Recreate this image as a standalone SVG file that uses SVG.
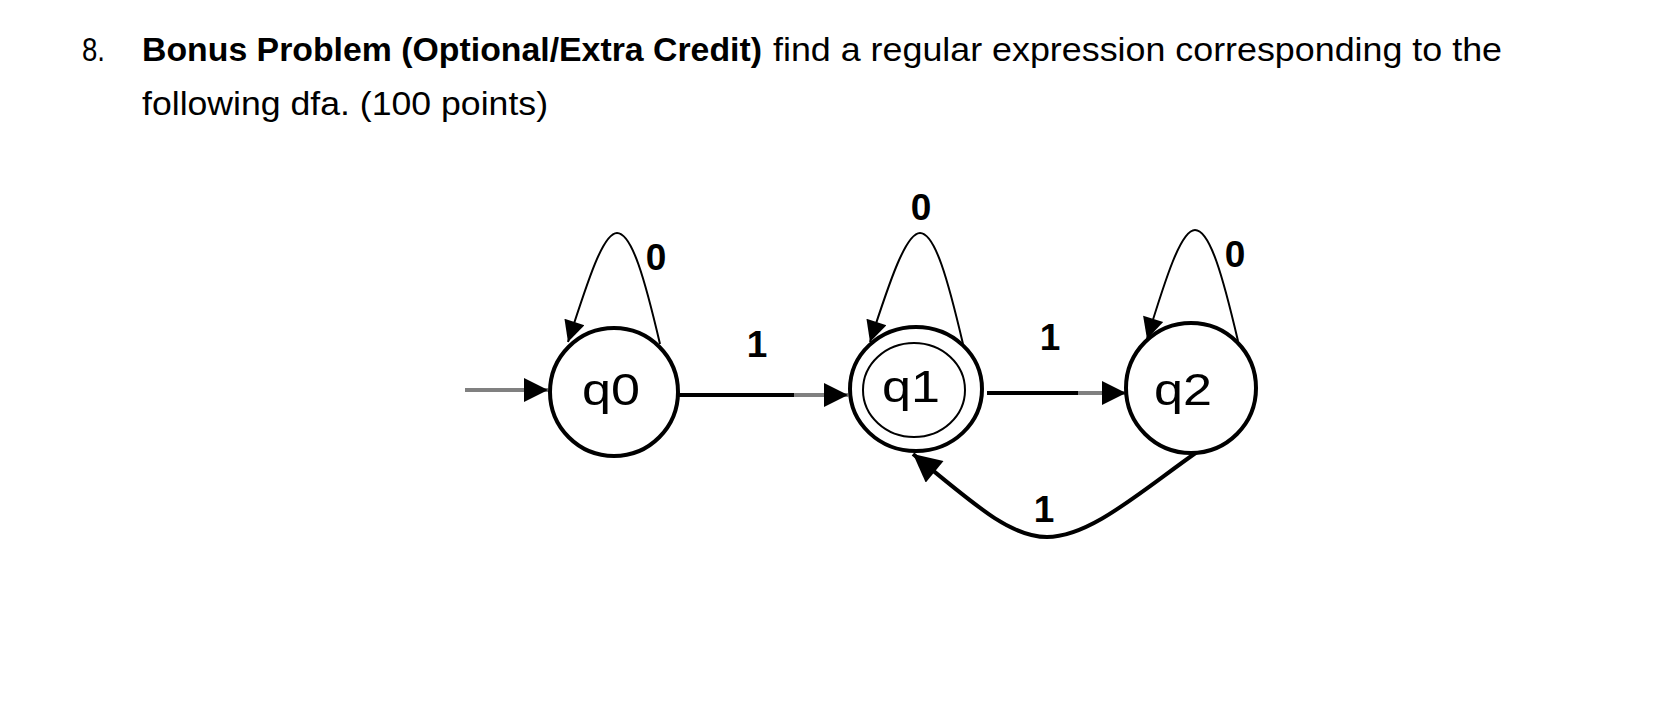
<svg xmlns="http://www.w3.org/2000/svg" width="1654" height="716" viewBox="0 0 1654 716">
<style>
.t{font-family:"Liberation Sans",Arial,sans-serif;font-size:34px;fill:#000}
.b{font-weight:bold}
.st{fill:#fff;stroke:#000;stroke-width:4}
.in{fill:none;stroke:#000;stroke-width:2}
.lab{font-family:"Liberation Sans",Arial,sans-serif;font-size:45px;fill:#000;text-anchor:middle}
.el{font-family:"Liberation Sans",Arial,sans-serif;font-size:37px;font-weight:bold;fill:#000;text-anchor:middle}
.loop{fill:none;stroke:#000;stroke-width:2}
.thick{fill:none;stroke:#000;stroke-width:4}
.gray{fill:none;stroke:#808080;stroke-width:4}
</style>
<defs>
<marker id="ah" viewBox="0 0 10 10" refX="10" refY="5" markerWidth="26" markerHeight="21" markerUnits="userSpaceOnUse" orient="auto">
<path d="M0,0 L10,5 L0,10 z" fill="#000"/>
</marker>
<marker id="ahb" viewBox="0 0 10 10" refX="10" refY="5" markerWidth="29" markerHeight="28" markerUnits="userSpaceOnUse" orient="auto">
<path d="M0,0 L10,5 L0,10 z" fill="#000"/>
</marker>
<marker id="ahs" viewBox="0 0 10 10" refX="10" refY="5" markerWidth="28" markerHeight="24" markerUnits="userSpaceOnUse" orient="auto">
<path d="M0,0 L10,5 L0,10 z" fill="#000"/>
</marker>
</defs>

<g id="title">
<text class="t" x="82" y="61" textLength="23" lengthAdjust="spacingAndGlyphs">8.</text>
<text class="t b" x="142" y="61" textLength="620" lengthAdjust="spacingAndGlyphs">Bonus Problem (Optional/Extra Credit)</text>
<text class="t" x="773" y="61" textLength="729" lengthAdjust="spacingAndGlyphs">find a regular expression corresponding to the</text>
<text class="t" x="142" y="115" textLength="406" lengthAdjust="spacingAndGlyphs">following dfa. (100 points)</text>
</g>

<g id="connectors">
<line class="gray" x1="465" y1="390" x2="548" y2="390" marker-end="url(#ahs)"/>
<line class="thick" x1="678" y1="395" x2="794" y2="395"/>
<line class="gray" x1="794" y1="395" x2="848" y2="395" marker-end="url(#ahs)"/>
<line class="thick" x1="987" y1="393" x2="1078" y2="393"/>
<line class="gray" x1="1078" y1="393" x2="1126" y2="393" marker-end="url(#ahs)"/>
<path class="thick" d="M1197 452 C1140 492 1090 537 1047 537 C1010 537 975 505 913 454" marker-end="url(#ahb)"/>
<path class="loop" d="M660 344 C645 280 632 233 617 233 C603 233 588 280 568 342" marker-end="url(#ah)"/>
<path class="loop" d="M963 344 C948 280 935 233 920 233 C906 233 890 280 870 342" marker-end="url(#ah)"/>
<path class="loop" d="M1238 341 C1223 277 1210 230 1195 230 C1181 230 1166 277 1147 339" marker-end="url(#ah)"/>
</g>

<g id="q0">
<circle class="st" cx="614" cy="392" r="64"/>
<text class="lab" x="611" y="405" textLength="58" lengthAdjust="spacingAndGlyphs">q0</text>
</g>
<g id="q1">
<ellipse class="st" cx="916" cy="389" rx="66" ry="62"/>
<ellipse class="in" cx="914" cy="390" rx="51" ry="47"/>
<text class="lab" x="911" y="402" textLength="58" lengthAdjust="spacingAndGlyphs">q1</text>
</g>
<g id="q2">
<circle class="st" cx="1191" cy="388" r="65"/>
<text class="lab" x="1183" y="405" textLength="58" lengthAdjust="spacingAndGlyphs">q2</text>
</g>

<g id="labels">
<text class="el" x="656" y="270">0</text>
<text class="el" x="921" y="220">0</text>
<text class="el" x="1235" y="267">0</text>
<text class="el" x="757" y="357">1</text>
<text class="el" x="1050" y="350">1</text>
<text class="el" x="1044" y="522">1</text>
</g>
</svg>
